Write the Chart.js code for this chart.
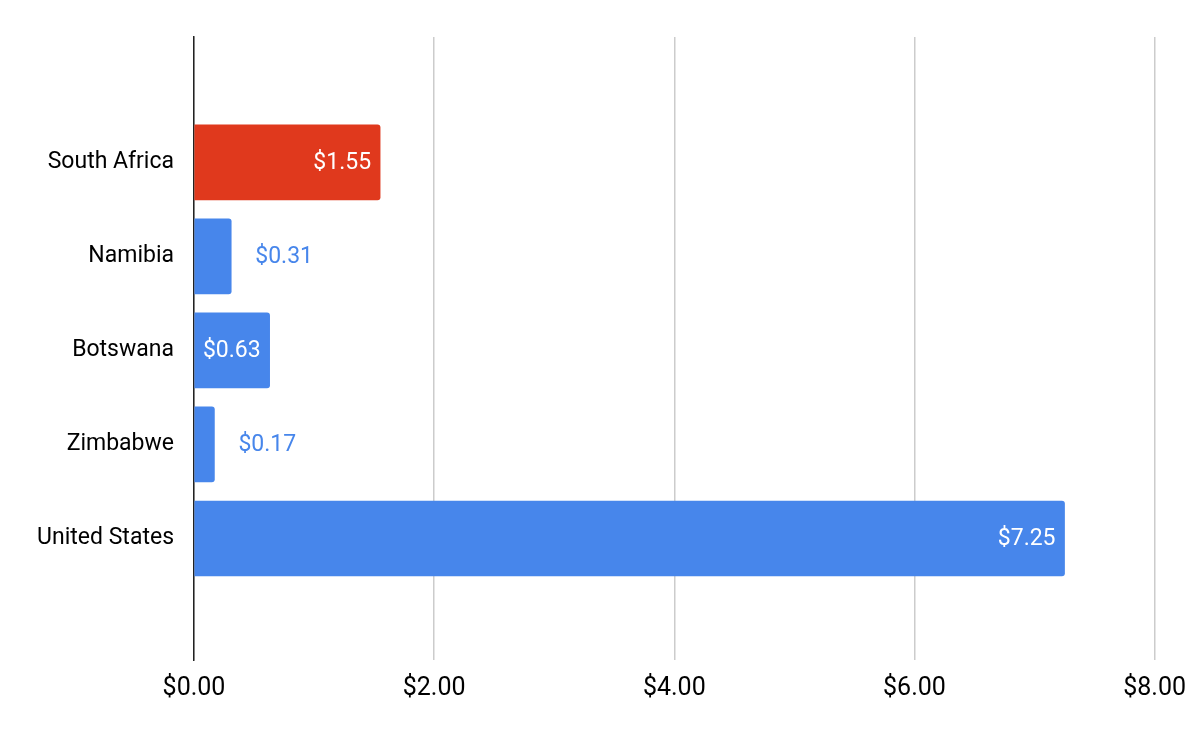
<!DOCTYPE html>
<html><head><meta charset="utf-8">
<script src="https://cdn.jsdelivr.net/npm/chart.js@4"></script>
<style>html,body{margin:0;padding:0;background:#fff}#w{width:1200px;height:742px}</style>
</head><body><div id="w"><canvas id="c"></canvas></div>
<script>
const categories = ["South Africa","Namibia","Botswana","Zimbabwe","United States"];
const values = [1.55,0.31,0.63,0.17,7.25];
const barColors = ["#e0391d","#4786eb","#4786eb","#4786eb","#4786eb"];
const xTicks = [0,2,4,6,8];
const fmt = v => "$" + v.toFixed(2);
const points = values.map((v,i)=>({x:v,y:i}));
const labelPlugin = {
  id:"vals",
  afterDatasetsDraw(chart){
    const ctx = chart.ctx; const meta = chart.getDatasetMeta(0);
    ctx.save(); ctx.font = "23px Roboto"; ctx.textBaseline = "middle";
    meta.data.forEach((bar,i)=>{
      const t = fmt(values[i]); const w = ctx.measureText(t).width;
      const bw = bar.x - bar.base;
      if (bw > w + 12) { ctx.fillStyle="#fff"; ctx.textAlign="right"; ctx.fillText(t, bar.x-9, bar.y+1); }
      else { ctx.fillStyle="#4786eb"; ctx.textAlign="left"; ctx.fillText(t, bar.x+24, bar.y+1); }
    });
    ctx.restore();
  }
};
new Chart(document.getElementById("c"), {
  type:"bar",
  data:{datasets:[{data:points, backgroundColor:barColors, borderRadius:3, borderSkipped:"start", barThickness:75}]},
  options:{
    indexAxis:"y", responsive:true, maintainAspectRatio:false, animation:false,
    layout:{padding:{top:37,right:38,left:0,bottom:0}},
    plugins:{legend:{display:false}, tooltip:{enabled:false}},
    scales:{
      x:{type:"linear",min:0,max:8, afterBuildTicks:s=>{s.ticks=xTicks.map(v=>({value:v}));},
         afterFit:s=>{s.height=82;},
         ticks:{callback:v=>fmt(v), color:"#000", font:{family:"Roboto",size:25}, padding:14},
         grid:{color:"#cccccc", lineWidth:1.5, drawTicks:false}, border:{display:false}},
      y:{type:"linear",reverse:true,min:-0.67,max:4.63,
         afterBuildTicks:s=>{s.ticks=categories.map((c,i)=>({value:i}));},
         afterFit:s=>{s.width=194;},
         ticks:{callback:v=>categories[v], color:"#000", font:{family:"Roboto",size:23}, padding:12},
         grid:{display:false}, border:{display:true,color:"#222",width:1.5}}
    }
  },
  plugins:[labelPlugin]
});
</script></body></html>
